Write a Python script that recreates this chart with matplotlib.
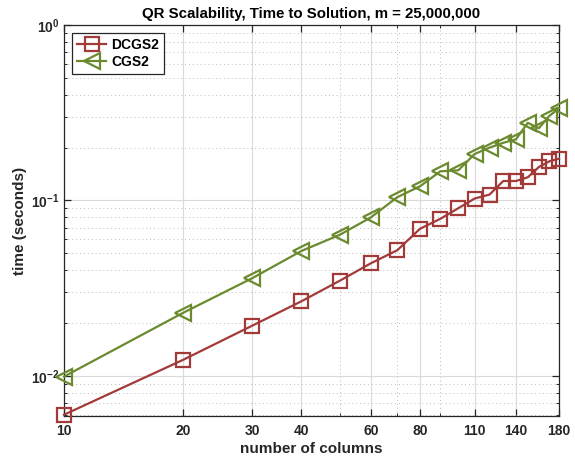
import matplotlib
matplotlib.use("Agg")
import matplotlib.pyplot as plt
from matplotlib.ticker import FixedLocator, NullFormatter, LogLocator

plt.rcParams['font.family'] = ['Liberation Sans', 'DejaVu Sans']
plt.rcParams['font.weight'] = 'bold'
plt.rcParams['mathtext.fontset'] = 'custom'
plt.rcParams['mathtext.rm'] = 'Liberation Sans:bold'
plt.rcParams['mathtext.bf'] = 'Liberation Sans:bold'
plt.rcParams['mathtext.it'] = 'Liberation Sans:bold'

columns = [10, 20, 30, 40, 50, 60, 70, 80, 90, 100, 110, 120, 130, 140, 150, 160, 170, 180]
dcgs2 = [0.0060, 0.0123, 0.0193, 0.0266, 0.0348, 0.0438, 0.0520, 0.0690, 0.0785, 0.0903,
         0.1025, 0.108, 0.129, 0.129, 0.1355, 0.155, 0.167, 0.173]
cgs2 = [0.0099, 0.0228, 0.0360, 0.0515, 0.0636, 0.0800, 0.1043, 0.1205, 0.1465, 0.1485,
        0.184, 0.200, 0.213, 0.223, 0.277, 0.258, 0.303, 0.335]
xticks = [10, 20, 30, 40, 60, 80, 110, 140, 180]
yticks = [0.01, 0.1, 1]
yticklabels = [r'$10^{-2}$', r'$10^{-1}$', r'$10^{0}$']

title = 'QR Scalability, Time to Solution, m = 25,000,000'
xlabel = 'number of columns'
ylabel = 'time (seconds)'

red = '#A23A3A'
green = '#6B8A2E'
axcol = '#262626'

fig = plt.figure(figsize=(5.75, 4.59), dpi=100)
ax = fig.add_axes([0.1113, 0.0937, 0.8609, 0.8518])

ax.plot(columns, dcgs2, color=red, marker='s', markersize=9.5, markerfacecolor='none',
        markeredgewidth=1.6, linewidth=1.6, label='DCGS2', clip_on=False, zorder=3)
ax.plot(columns, cgs2, color=green, marker='<', markersize=11.5, markerfacecolor='none',
        markeredgewidth=1.6, linewidth=1.6, label='CGS2', clip_on=False, zorder=3)

ax.set_xscale('log')
ax.set_yscale('log')
ax.set_xlim(10, 180)
ax.set_ylim(0.0059, 1)

ax.xaxis.set_major_locator(FixedLocator(xticks))
ax.set_xticklabels([str(v) for v in xticks])
ax.xaxis.set_minor_locator(LogLocator(base=10, subs=range(2, 10)))
ax.xaxis.set_minor_formatter(NullFormatter())
ax.yaxis.set_major_locator(FixedLocator(yticks))
ax.set_yticklabels(yticklabels)
ax.yaxis.set_minor_locator(LogLocator(base=10, subs=range(2, 10)))
ax.yaxis.set_minor_formatter(NullFormatter())

ax.grid(True, which='major', color='#DADADA', linestyle='-', linewidth=0.8)
ax.grid(True, which='minor', color='#BBBBBB', linestyle=(0, (1, 3)), linewidth=0.7)
ax.set_axisbelow(True)

ax.tick_params(which='both', direction='in', top=True, right=True, colors=axcol,
               labelsize=10, labelcolor=axcol)
ax.tick_params(which='major', length=5, width=0.9)
ax.tick_params(axis='x', which='major', pad=6)
ax.tick_params(which='minor', length=2.5, width=0.7)
for lab in ax.get_xticklabels() + ax.get_yticklabels():
    lab.set_fontweight('bold')
for sp in ax.spines.values():
    sp.set_color(axcol)
    sp.set_linewidth(0.9)

ax.set_title(title, fontsize=10.8, fontweight='bold', color='black', pad=5)
ax.set_xlabel(xlabel, fontsize=11, fontweight='bold', color=axcol)
ax.set_ylabel(ylabel, fontsize=11, fontweight='bold', color=axcol)
ax.xaxis.set_label_coords(0.5, -0.066)
ax.yaxis.set_label_coords(-0.075, 0.5)

leg = ax.legend(loc='upper left', fontsize=10, frameon=True, fancybox=False,
                edgecolor=axcol, framealpha=1, borderpad=0.35, handlelength=2.1,
                labelspacing=0.2, handletextpad=0.35, borderaxespad=0.6)
leg.get_frame().set_linewidth(0.9)
for t in leg.get_texts():
    t.set_fontweight('bold')

fig.savefig('out.png', dpi=100)
